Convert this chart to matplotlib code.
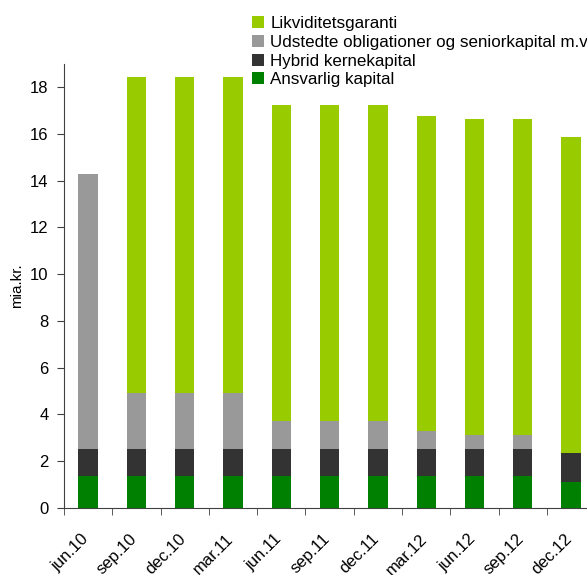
import numpy as np
import matplotlib
matplotlib.use("Agg")
import matplotlib.pyplot as plt
from matplotlib.transforms import ScaledTranslation

plt.rcParams["font.family"] = ["Liberation Sans", "DejaVu Sans"]

# Data (mia. kr.)
quarters = ["jun.10", "sep.10", "dec.10", "mar.11", "jun.11", "sep.11",
            "dec.11", "mar.12", "jun.12", "sep.12", "dec.12"]
ansvarlig = [1.35, 1.35, 1.35, 1.35, 1.35, 1.35, 1.35, 1.35, 1.35, 1.35, 1.10]
hybrid = [1.17, 1.17, 1.17, 1.17, 1.17, 1.17, 1.17, 1.17, 1.17, 1.17, 1.24]
udstedte = [11.77, 2.39, 2.39, 2.39, 1.20, 1.20, 1.20, 0.78, 0.59, 0.59, 0.0]
likviditet = [0.0, 13.55, 13.55, 13.55, 13.53, 13.53, 13.53, 13.48, 13.53, 13.53, 13.53]

series = [
    ("Ansvarlig kapital", ansvarlig, "#008000"),
    ("Hybrid kernekapital", hybrid, "#333333"),
    ("Udstedte obligationer og seniorkapital m.v", udstedte, "#999999"),
    ("Likviditetsgaranti", likviditet, "#99cc00"),
]

fig = plt.figure(figsize=(5.87, 5.75), dpi=100)
ax = fig.add_axes([0.109, 0.117, 0.905, 0.7717])

x = np.arange(len(quarters))
bottom = np.zeros(len(quarters))
handles = []
for name, vals, col in series:
    b = ax.bar(x, vals, width=0.4, bottom=bottom, color=col, label=name)
    handles.append(b)
    bottom += np.array(vals)

ax.set_xlim(-0.5, len(quarters) - 0.5)
ax.set_ylim(0, 19)
ax.set_yticks(np.arange(0, 19, 2))
ax.set_ylabel("mia.kr.", fontsize=11, labelpad=4)

for s in ["top", "right"]:
    ax.spines[s].set_visible(False)
for s in ["left", "bottom"]:
    ax.spines[s].set_color("#404040")

ax.set_xticks(x)
ax.set_xticklabels(quarters, rotation=45, ha="right", rotation_mode="anchor", fontsize=12)
ax.set_xticks(np.arange(len(quarters)) - 0.5, minor=True)
ax.tick_params(axis="x", which="major", length=0, pad=17)
ax.tick_params(axis="x", which="minor", length=5, color="#404040")
ax.tick_params(axis="y", length=5, color="#404040", labelsize=12, pad=6)

# nudge rotated labels a little to the left
shift = ScaledTranslation(-5 / 72, 0, fig.dpi_scale_trans)
for lbl in ax.get_xticklabels():
    lbl.set_transform(lbl.get_transform() + shift)

fig.legend(handles[::-1], [s[0] for s in series][::-1], loc="upper left",
           bbox_to_anchor=(0.423, 0.978), frameon=False, fontsize=12.25,
           handlelength=0.7, handleheight=0.7, handletextpad=0.4,
           labelspacing=0.22, borderpad=0.2, borderaxespad=0)

fig.savefig("out.png", dpi=100)
